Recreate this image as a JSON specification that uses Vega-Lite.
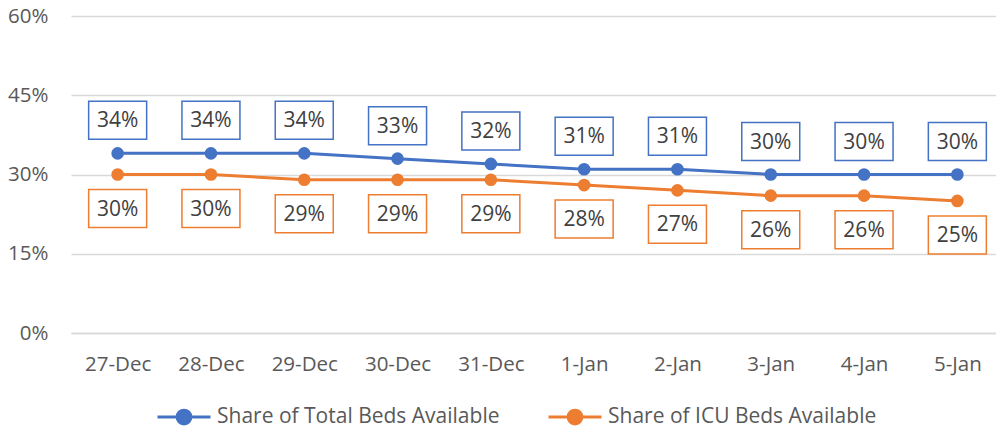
{
  "$schema": "https://vega.github.io/schema/vega-lite/v6.json",
  "autosize": "none",
  "width": 933,
  "height": 317,
  "padding": {"left": 71, "top": 16, "right": 0, "bottom": 98},
  "background": "white",
  "config": {
    "view": {"stroke": null},
    "font": "Open Sans"
  },
  "data": {
    "values": [
      {"date": "27-Dec", "series": "Share of Total Beds Available", "value": 0.34},
      {"date": "28-Dec", "series": "Share of Total Beds Available", "value": 0.34},
      {"date": "29-Dec", "series": "Share of Total Beds Available", "value": 0.34},
      {"date": "30-Dec", "series": "Share of Total Beds Available", "value": 0.33},
      {"date": "31-Dec", "series": "Share of Total Beds Available", "value": 0.32},
      {"date": "1-Jan", "series": "Share of Total Beds Available", "value": 0.31},
      {"date": "2-Jan", "series": "Share of Total Beds Available", "value": 0.31},
      {"date": "3-Jan", "series": "Share of Total Beds Available", "value": 0.30},
      {"date": "4-Jan", "series": "Share of Total Beds Available", "value": 0.30},
      {"date": "5-Jan", "series": "Share of Total Beds Available", "value": 0.30},
      {"date": "27-Dec", "series": "Share of ICU Beds Available", "value": 0.30},
      {"date": "28-Dec", "series": "Share of ICU Beds Available", "value": 0.30},
      {"date": "29-Dec", "series": "Share of ICU Beds Available", "value": 0.29},
      {"date": "30-Dec", "series": "Share of ICU Beds Available", "value": 0.29},
      {"date": "31-Dec", "series": "Share of ICU Beds Available", "value": 0.29},
      {"date": "1-Jan", "series": "Share of ICU Beds Available", "value": 0.28},
      {"date": "2-Jan", "series": "Share of ICU Beds Available", "value": 0.27},
      {"date": "3-Jan", "series": "Share of ICU Beds Available", "value": 0.26},
      {"date": "4-Jan", "series": "Share of ICU Beds Available", "value": 0.26},
      {"date": "5-Jan", "series": "Share of ICU Beds Available", "value": 0.25}
    ]
  },
  "encoding": {
    "x": {
      "field": "date", "type": "ordinal", "sort": null, "title": null,
      "scale": {"paddingInner": 0, "paddingOuter": 0},
      "axis": {"labelAngle": 0, "labelFontSize": 20.5, "labelColor": "#595959", "labelPadding": 21, "ticks": false, "domain": true, "domainColor": "#D9D9D9", "domainWidth": 1.5, "grid": false}
    },
    "y": {
      "field": "value", "type": "quantitative", "title": null,
      "scale": {"domain": [0, 0.6], "nice": false},
      "axis": {"values": [0, 0.15, 0.3, 0.45, 0.6], "format": ".0%", "labelFontSize": 20.5, "labelColor": "#595959", "labelPadding": 23, "ticks": false, "domain": false, "gridColor": "#D9D9D9", "gridWidth": 1.5}
    }
  },
  "layer": [
    {
      "mark": {"type": "line", "strokeWidth": 3},
      "encoding": {
        "color": {
          "field": "series", "type": "nominal", "title": null,
          "scale": {"domain": ["Share of Total Beds Available", "Share of ICU Beds Available"], "range": ["#4472C4", "#ED7D31"]},
          "legend": {
            "orient": "none", "legendX": 85, "legendY": 373, "direction": "horizontal",
            "symbolType": "M-1,0H1M-0.26,0A0.26,0.26 0 1,0 0.26,0A0.26,0.26 0 1,0 -0.26,0Z",
            "symbolSize": 2809, "symbolStrokeWidth": 3,
            "labelFontSize": 21, "labelColor": "#595959", "labelLimit": 400,
            "columnPadding": 42, "labelOffset": 5
          }
        }
      }
    },
    {
      "mark": {"type": "point", "filled": true, "size": 160, "opacity": 1, "shape": "circle"},
      "encoding": {
        "color": {"field": "series", "type": "nominal", "legend": null}
      }
    },
    {
      "transform": [{"filter": "datum.series === 'Share of Total Beds Available'"}],
      "mark": {"type": "point", "shape": "M-1,-0.655H1V0.655H-1Z", "size": 3364, "fill": "white", "fillOpacity": 1, "stroke": "#4472C4", "strokeWidth": 1.5, "opacity": 1, "yOffset": -33}
    },
    {
      "transform": [{"filter": "datum.series === 'Share of Total Beds Available'"}],
      "mark": {"type": "text", "fontSize": 21, "color": "#404040", "yOffset": -32, "baseline": "middle"},
      "encoding": {"text": {"field": "value", "format": ".0%"}}
    },
    {
      "transform": [{"filter": "datum.series === 'Share of ICU Beds Available'"}],
      "mark": {"type": "point", "shape": "M-1,-0.655H1V0.655H-1Z", "size": 3364, "fill": "white", "fillOpacity": 1, "stroke": "#ED7D31", "strokeWidth": 1.5, "opacity": 1, "yOffset": 34}
    },
    {
      "transform": [{"filter": "datum.series === 'Share of ICU Beds Available'"}],
      "mark": {"type": "text", "fontSize": 21, "color": "#404040", "yOffset": 35, "baseline": "middle"},
      "encoding": {"text": {"field": "value", "format": ".0%"}}
    }
  ]
}
